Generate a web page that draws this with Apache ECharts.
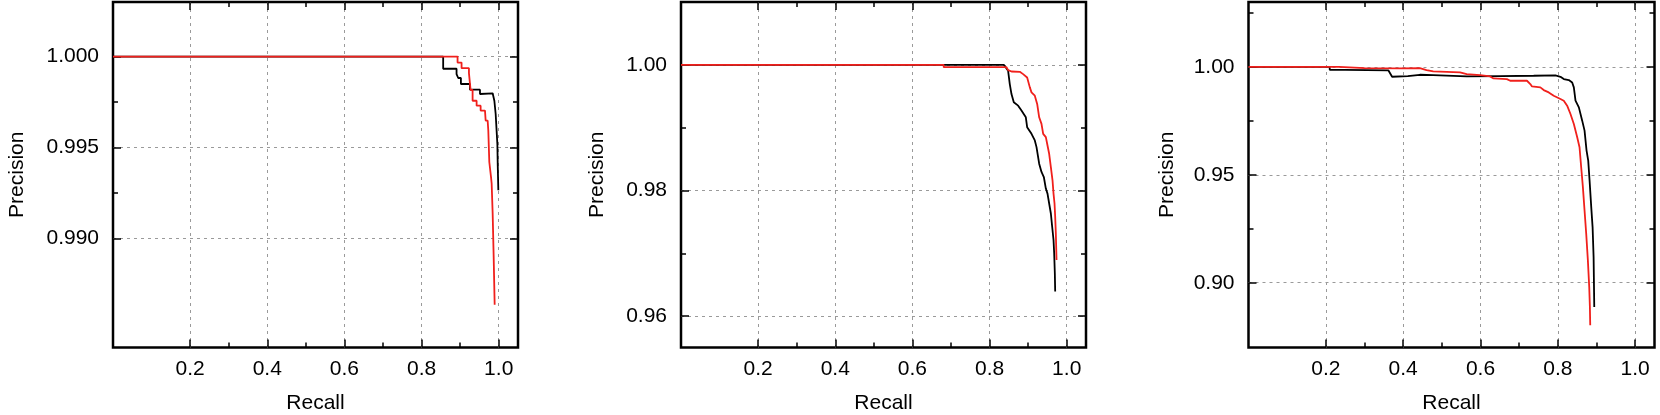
<!DOCTYPE html>
<html>
<head>
<meta charset="utf-8">
<script src="https://cdn.jsdelivr.net/npm/echarts@6/dist/echarts.min.js"></script>
<style>
html, body { margin: 0; padding: 0; background: #fff; }
#chart { width: 1660px; height: 415px; }
</style>
</head>
<body>
<div id="chart"></div>
<script>
// tick values shared by the three recall axes
const xMajor = [0.2, 0.4, 0.6, 0.8, 1.0]
const xMinor = [0.3, 0.5, 0.7, 0.9]

// precision ticks, one set per panel
const y1Major = [0.990, 0.995, 1.000]
const y1Minor = [0.9925, 0.9975]
const y2Major = [0.96, 0.98, 1.00]
const y2Minor = [0.97, 0.99]
const y3Major = [0.90, 0.95, 1.00]
const y3Minor = [0.925, 0.975, 1.025]

// [recall, precision]
const p1Black = [
    [0, 1.0], [0.856, 1.0], [0.856, 0.99933], [0.8907, 0.99933], [0.8907, 0.99903],
    [0.895, 0.99903], [0.895, 0.99882], [0.902, 0.99882], [0.902, 0.99849],
    [0.9254, 0.99849], [0.9254, 0.99818], [0.9514, 0.99818], [0.9514, 0.99794],
    [0.9843, 0.99798], [0.9887, 0.99757], [0.9921, 0.99684], [0.9965, 0.9952],
    [0.9975, 0.99401], [0.999, 0.99265],
]
const p1Red = [
    [0, 1.0], [0.8933, 1.0], [0.8933, 0.99967], [0.9037, 0.99967], [0.9037, 0.99936],
    [0.9228, 0.99936], [0.9228, 0.99909], [0.9271, 0.99909], [0.9271, 0.99816],
    [0.9323, 0.99816], [0.9323, 0.99757], [0.9427, 0.99757], [0.9427, 0.9973],
    [0.9531, 0.9973], [0.9531, 0.99703], [0.9644, 0.99703], [0.9661, 0.99648],
    [0.9713, 0.99648], [0.973, 0.99593], [0.9756, 0.9942], [0.98, 0.99338],
    [0.9817, 0.99301], [0.9843, 0.99137], [0.9869, 0.989], [0.9895, 0.98635],
]
const p2Black = [
    [0, 1.0], [0.8369, 1.0], [0.8481, 0.99905], [0.8524, 0.99694], [0.8568, 0.99535],
    [0.8628, 0.99403], [0.8741, 0.9935], [0.8827, 0.99271], [0.894, 0.99165],
    [0.8974, 0.99007], [0.9087, 0.98901], [0.9173, 0.98796], [0.9217, 0.9869],
    [0.9286, 0.98426], [0.9346, 0.98294], [0.9407, 0.98214], [0.9459, 0.9803],
    [0.9502, 0.9795], [0.9545, 0.97792], [0.9589, 0.97633], [0.9623, 0.97422],
    [0.9658, 0.97211], [0.9675, 0.97], [0.9692, 0.96683], [0.9701, 0.96392],
]
const p2Red = [
    [0, 1.0], [0.6811, 1.0], [0.6811, 0.99962], [0.8438, 0.99962], [0.8481, 0.99916],
    [0.8568, 0.99894], [0.8784, 0.99889], [0.887, 0.99852], [0.8974, 0.99799],
    [0.9044, 0.99641], [0.9087, 0.99561], [0.9173, 0.99509], [0.9234, 0.99377],
    [0.9286, 0.99165], [0.9346, 0.9906], [0.939, 0.98901], [0.9459, 0.98848],
    [0.9493, 0.98743], [0.9545, 0.98584], [0.9589, 0.98373], [0.9632, 0.98162],
    [0.9658, 0.9795], [0.9684, 0.97792], [0.9701, 0.97581], [0.9718, 0.97316],
    [0.9727, 0.97105], [0.9736, 0.96894],
]
const p3Black = [
    [0, 1.0], [0.21, 1.0], [0.21, 0.99861], [0.2502, 0.99861], [0.2502, 0.99769],
    [0.362, 0.9983], [0.3714, 0.99538], [0.412, 0.99569], [0.4431, 0.9963],
    [0.4777, 0.99615], [0.5643, 0.99553], [0.6509, 0.99569], [0.7375, 0.99584],
    [0.7938, 0.99599], [0.8068, 0.99538], [0.8154, 0.9943], [0.8284, 0.99384],
    [0.8371, 0.99276], [0.8414, 0.99045], [0.8457, 0.98429], [0.8544, 0.98121],
    [0.863, 0.97505], [0.8691, 0.97043], [0.8743, 0.96118], [0.8786, 0.95656],
    [0.8821, 0.94732], [0.8864, 0.935], [0.8899, 0.92576], [0.8925, 0.91189],
    [0.8942, 0.88879],
]
const p3Red = [
    [0, 1.0], [0.2346, 1.0], [0.2346, 0.99923], [0.3, 0.99938], [0.3912, 0.99923],
    [0.4431, 0.99938], [0.4604, 0.99846], [0.4777, 0.99784], [0.547, 0.99738],
    [0.5643, 0.99661], [0.599, 0.99615], [0.6249, 0.99553], [0.6336, 0.99461],
    [0.6682, 0.9943], [0.6769, 0.99353], [0.7202, 0.99353], [0.7288, 0.99199],
    [0.7332, 0.99091], [0.7548, 0.99045], [0.7635, 0.98922], [0.7765, 0.98814],
    [0.7894, 0.9866], [0.8068, 0.98506], [0.8154, 0.98429], [0.8241, 0.98198],
    [0.8327, 0.97813], [0.8414, 0.97351], [0.8501, 0.96734], [0.8561, 0.96272],
    [0.8604, 0.95348], [0.8648, 0.94424], [0.8691, 0.93346], [0.8734, 0.92268],
    [0.8777, 0.91035], [0.8812, 0.89803], [0.8829, 0.88879], [0.8838, 0.88031],
]

const font = "Liberation Sans"
const textStyle = { color: "#000", fontSize: 21, fontFamily: font }
const gridLine = { show: true, lineStyle: { color: "#9a9a9a", width: 1, type: [3, 4] } }

const panels = [
    { left: 113, width: 405, yMin: 0.984, yMax: 1.003, yMajor: y1Major, yMinor: y1Minor, digits: 3, nameGap: 85, black: p1Black, red: p1Red },
    { left: 681, width: 405, yMin: 0.955, yMax: 1.01, yMajor: y2Major, yMinor: y2Minor, digits: 2, nameGap: 73, black: p2Black, red: p2Red },
    { left: 1248.5, width: 406, yMin: 0.87, yMax: 1.03, yMajor: y3Major, yMinor: y3Minor, digits: 2, nameGap: 71, black: p3Black, red: p3Red },
]

function tickAxis(gridIndex, position, min, max, values, len, extra) {
    return Object.assign({
        type: "value",
        gridIndex,
        position,
        offset: 0,
        min,
        max,
        axisLine: { show: false, onZero: false },
        axisTick: { show: true, inside: true, length: len, customValues: values, lineStyle: { color: "#000", width: 1.5 } },
        axisLabel: { show: false },
        splitLine: { show: false },
    }, extra)
}

const grid = []
const xAxis = []
const yAxis = []
const series = []

panels.forEach((p, i) => {
    grid.push({
        left: p.left, top: 2, width: p.width, height: 345.5,
        outerBoundsMode: "none", containLabel: false,
        show: true, borderColor: "#000", borderWidth: 2.5,
    })
    const xi = xAxis.length
    const yi = yAxis.length
    xAxis.push(tickAxis(i, "bottom", 0, 1.05, xMajor, 8, {
        axisLabel: { show: true, customValues: xMajor, margin: 11, formatter: v => v.toFixed(1), ...textStyle },
        splitLine: gridLine,
        name: "Recall",
        nameLocation: "middle",
        nameGap: 45,
        nameTextStyle: textStyle,
    }))
    xAxis.push(tickAxis(i, "bottom", 0, 1.05, xMinor, 5))
    xAxis.push(tickAxis(i, "top", 0, 1.05, xMajor, 8))
    xAxis.push(tickAxis(i, "top", 0, 1.05, xMinor, 5))
    yAxis.push(tickAxis(i, "left", p.yMin, p.yMax, p.yMajor, 8, {
        axisLabel: { show: true, customValues: p.yMajor, margin: 14, formatter: v => v.toFixed(p.digits), ...textStyle },
        splitLine: gridLine,
        name: "Precision",
        nameLocation: "middle",
        nameGap: p.nameGap,
        nameTextStyle: textStyle,
    }))
    yAxis.push(tickAxis(i, "left", p.yMin, p.yMax, p.yMinor, 5))
    yAxis.push(tickAxis(i, "right", p.yMin, p.yMax, p.yMajor, 8))
    yAxis.push(tickAxis(i, "right", p.yMin, p.yMax, p.yMinor, 5))
    series.push({
        type: "line", xAxisIndex: xi, yAxisIndex: yi, data: p.black,
        showSymbol: false, color: "#000", lineStyle: { width: 1.8 }, z: 3,
    })
    series.push({
        type: "line", xAxisIndex: xi, yAxisIndex: yi, data: p.red,
        showSymbol: false, color: "#f0201c", lineStyle: { width: 1.8 }, z: 4,
    })
})

const chart = echarts.init(document.getElementById("chart"))
chart.setOption({ animation: false, backgroundColor: "#fff", grid, xAxis, yAxis, series })
</script>
</body>
</html>
